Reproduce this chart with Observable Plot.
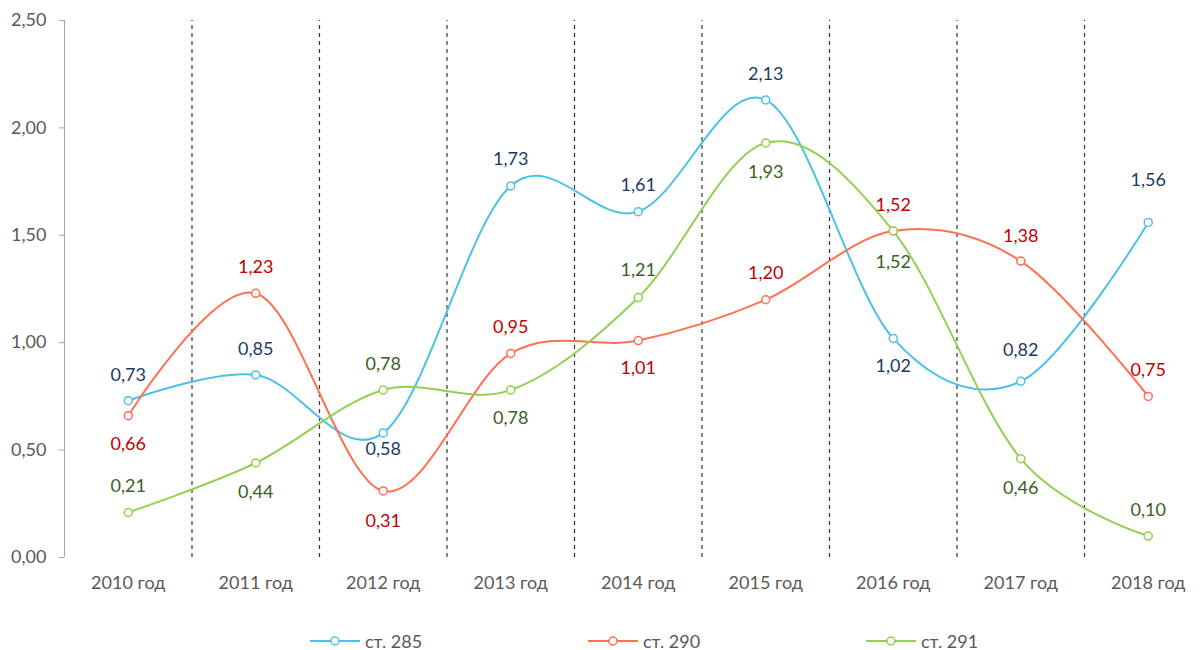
<!DOCTYPE html>
<html><head><meta charset="utf-8">
<script src="https://cdn.jsdelivr.net/npm/d3@7"></script>
<script src="https://cdn.jsdelivr.net/npm/@observablehq/plot@0.6"></script>
<style>
body{margin:0;background:#fff;font-family:Lato,sans-serif}
#legend{position:relative;width:1202px;height:30px}
.item{position:absolute;top:3px;height:36px;display:flex;align-items:center;font-size:18px;color:#595959}
.item svg{margin-right:5px}
</style></head><body><div id="chart"></div><div id="legend"></div>
<script>
const years = ["2010 год","2011 год","2012 год","2013 год","2014 год","2015 год","2016 год","2017 год","2018 год"];
const seriesNames = ["ст. 285","ст. 290","ст. 291"];
const s285 = [0.73,0.85,0.58,1.73,1.61,2.13,1.02,0.82,1.56];
const s290 = [0.66,1.23,0.31,0.95,1.01,1.20,1.52,1.38,0.75];
const s291 = [0.21,0.44,0.78,0.78,1.21,1.93,1.52,0.46,0.10];
const yTicks = [0,0.5,1,1.5,2,2.5];

// label placement offsets (px), layout only
const labelDy = [
  [-25,-26,16,-27,-26,-26,28,-31,-42],
  [29,-26,30,-26,28,-27,-26,-25,-26],
  [-26,29,-26,28,-27,29,31,30,-26]
];
const lineColors = ["#4DC0E9","#FF7050","#92D050"];
const labelColors = ["#1F3864","#C00000","#3B5E22"];
const legendX = [310,588,866];

const fmt = v => v.toFixed(2).replace(".", ",");
const seriesVals = [s285,s290,s291];
const rows = [];
seriesVals.forEach((vals, k) => vals.forEach((v, i) => rows.push({s: seriesNames[k], k, i, v, dy: labelDy[k][i]})));

const textMarks = [];
seriesNames.forEach((name, k) => {
  const dys = [...new Set(labelDy[k])];
  dys.forEach(dy => {
    textMarks.push(Plot.text(rows.filter(r => r.k === k && r.dy === dy), {
      x: "i", y: "v", text: d => fmt(d.v), dy, fill: labelColors[k],
      lineAnchor: "middle", fontSize: 18
    }));
  });
});

const chart = Plot.plot({
  width: 1202, height: 620,
  marginTop: 20, marginBottom: 63, marginLeft: 64, marginRight: 0,
  style: {fontFamily: "Lato, sans-serif", fontSize: "18px", color: "#595959", background: "#fff"},
  x: {domain: [-0.5, years.length - 0.5], range: [64, 64 + 127.5 * years.length], label: null},
  y: {domain: [0, 2.5], label: null},
  color: {domain: seriesNames, range: lineColors},
  marks: [
    Plot.ruleX(d3.range(years.length - 1).map(i => i + 0.5), {y1: 0, y2: 2.5, stroke: "#333333", strokeDasharray: "4,4", strokeWidth: 1.2}),
    Plot.ruleX([-0.5], {y1: 0, y2: 2.5, stroke: "#a6a6a6"}),
    Plot.axisY(yTicks, {tickSize: 5, tickPadding: 13, tickFormat: fmt, stroke: "#a6a6a6", fill: "#595959", fontSize: 18, label: null}),
    Plot.axisX(d3.range(years.length), {tickSize: 0, tickPadding: 19, tickFormat: i => years[i], fill: "#595959", fontSize: 18, label: null}),
    Plot.line(rows, {x: "i", y: "v", z: "s", stroke: "s", curve: "cardinal", tension: 0, strokeWidth: 2}),
    Plot.dot(rows, {x: "i", y: "v", stroke: "s", fill: "white", r: 4, strokeWidth: 1.5}),
    ...textMarks
  ]
});
document.getElementById("chart").appendChild(chart);

const legend = document.getElementById("legend");
seriesNames.forEach((name, k) => {
  const item = document.createElement("div");
  item.className = "item";
  item.style.left = legendX[k] + "px";
  item.innerHTML = `<svg width="50" height="12"><line x1="0" x2="50" y1="6" y2="6" stroke="${lineColors[k]}" stroke-width="2"/><circle cx="25" cy="6" r="4" fill="white" stroke="${lineColors[k]}" stroke-width="1.5"/></svg><span>${name}</span>`;
  legend.appendChild(item);
});
</script></body></html>
